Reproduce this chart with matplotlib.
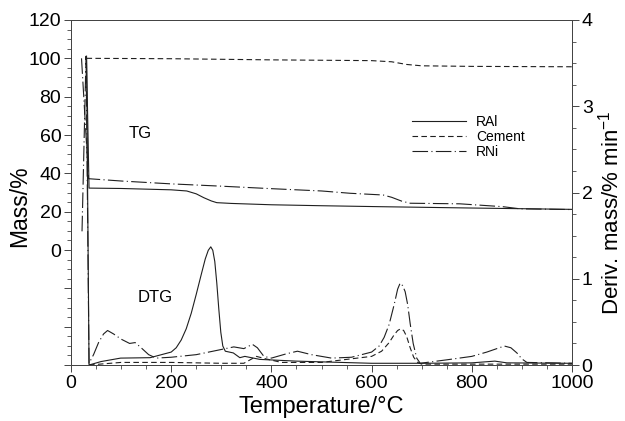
import matplotlib
matplotlib.use("Agg")
import matplotlib.pyplot as plt
from matplotlib.ticker import MultipleLocator, FuncFormatter

plt.rcParams["font.family"] = ["Liberation Sans", "DejaVu Sans"]
plt.rcParams["mathtext.fontset"] = "custom"
plt.rcParams["mathtext.rm"] = "Liberation Sans"

INK = "#1f1f1f"

# ---------------------------------------------------------------------------
# TG curves (left axis, Mass/%)
# ---------------------------------------------------------------------------
ral_tg_t = [31, 36, 100, 200, 231, 250, 265, 280, 291, 320, 400, 500, 617, 800, 1000]
ral_tg_m = [100, 32.3, 32.1, 31.4, 30.8, 29.3, 27.3, 25.6, 24.7, 24.3, 23.6, 23.1, 22.6, 21.9, 21.2]

cem_tg_t = [31, 200, 400, 600, 640, 670, 700, 800, 1000]
cem_tg_m = [100, 99.8, 99.2, 98.8, 98.2, 96.8, 96.1, 95.8, 95.6]

rni_tg_t = [21, 35, 100, 200, 300, 400, 500, 557, 623, 640, 660, 677, 776, 862, 896, 1000]
rni_tg_m = [100, 37.2, 36.0, 34.5, 33.3, 32.0, 30.8, 29.6, 28.7, 27.5, 25.5, 24.4, 24.1, 22.6, 21.5, 21.1]

# ---------------------------------------------------------------------------
# DTG curves (right axis, Deriv. mass/% min^-1)
# ---------------------------------------------------------------------------
ral_dtg_t = [31, 36, 60, 99, 158, 200, 210, 220, 230, 240, 250, 260, 268, 274, 279, 283,
             287, 291, 295, 299, 303, 308, 324, 337, 347, 377, 450, 557, 600, 700, 800,
             846, 870, 1000]
ral_dtg_v = [3.58, 0.0, 0.04, 0.08, 0.085, 0.15, 0.20, 0.29, 0.42, 0.60, 0.82, 1.05, 1.23,
             1.33, 1.37, 1.33, 1.20, 0.95, 0.65, 0.38, 0.22, 0.16, 0.14, 0.085, 0.10, 0.065,
             0.045, 0.027, 0.02, 0.02, 0.025, 0.045, 0.025, 0.02]

cem_dtg_t = [36, 100, 200, 300, 345, 370, 390, 420, 500, 600, 620, 635, 645, 652, 658,
             664, 670, 677, 684, 692, 700, 800, 1000]
cem_dtg_v = [0.0, 0.03, 0.03, 0.02, 0.02, 0.10, 0.07, 0.03, 0.03, 0.10, 0.16, 0.26, 0.35,
             0.40, 0.42, 0.40, 0.33, 0.20, 0.09, 0.03, 0.01, 0.01, 0.01]

rni_dtg_t = [22, 30, 36, 45, 55, 65, 73, 85, 100, 117, 128, 140, 155, 170, 200, 250, 300,
             325, 345, 362, 372, 385, 400, 430, 452, 480, 520, 560, 600, 615, 625, 635,
             645, 652, 657, 662, 667, 672, 677, 683, 690, 697, 750, 800, 830, 850, 865,
             878, 890, 900, 910, 1000]
rni_dtg_v = [1.55, 3.58, 0.02, 0.12, 0.26, 0.36, 0.40, 0.36, 0.30, 0.25, 0.26, 0.20, 0.12,
             0.08, 0.09, 0.12, 0.18, 0.21, 0.19, 0.24, 0.20, 0.10, 0.08, 0.13, 0.16, 0.12,
             0.08, 0.09, 0.15, 0.22, 0.32, 0.47, 0.70, 0.88, 0.95, 0.92, 0.85, 0.70, 0.48,
             0.25, 0.08, 0.02, 0.06, 0.10, 0.15, 0.19, 0.22, 0.20, 0.14, 0.07, 0.03, 0.02]

series_labels = ["RAl", "Cement", "RNi"]
styles = ["-", (0, (5, 3)), (0, (14, 3, 1, 3))]

fig = plt.figure(figsize=(6.25, 4.21), dpi=100)
ax = fig.add_axes([0.1136, 0.133, 0.8016, 0.8195])
ax2 = ax.twinx()

lines = []
for t, m, ls, lab in zip([ral_tg_t, cem_tg_t, rni_tg_t], [ral_tg_m, cem_tg_m, rni_tg_m],
                         styles, series_labels):
    ln, = ax.plot(t, m, color=INK, lw=0.8, ls=ls, label=lab)
    lines.append(ln)

for t, v, ls in zip([ral_dtg_t, cem_dtg_t, rni_dtg_t], [ral_dtg_v, cem_dtg_v, rni_dtg_v], styles):
    ax2.plot(t, v, color=INK, lw=0.8, ls=ls)

# axes limits and ticks
ax.set_xlim(0, 1000)
ax.set_ylim(-60, 120)
ax2.set_ylim(0, 4)
ax.xaxis.set_major_locator(MultipleLocator(200))
ax.xaxis.set_minor_locator(MultipleLocator(50))
ax.yaxis.set_major_locator(MultipleLocator(20))
ax.yaxis.set_minor_locator(MultipleLocator(5))
ax.yaxis.set_major_formatter(FuncFormatter(lambda v, p: f"{v:.0f}" if v >= 0 else ""))
ax2.yaxis.set_major_locator(MultipleLocator(1))
ax2.yaxis.set_minor_locator(MultipleLocator(0.25))

for a in (ax, ax2):
    a.tick_params(which="major", length=5, width=0.7, color="#444444", labelsize=14, pad=2)
    a.tick_params(which="minor", length=3, width=0.6, color="#444444")
    for s in a.spines.values():
        s.set_linewidth(0.7)
        s.set_color("#444444")

ax.set_xlabel("Temperature/°C", fontsize=17, labelpad=3)
ax.set_ylabel("Mass/%", fontsize=16.5)
ax2.set_ylabel("Deriv. mass/% min$^{-1}$", fontsize=16)
ax.yaxis.set_label_coords(-0.08, 0.46)
ax2.yaxis.set_label_coords(1.052, 0.44)

ax.text(138, 61, "TG", fontsize=12, ha="center", va="center")
ax.text(168, -25, "DTG", fontsize=12, ha="center", va="center")

ax.legend(handles=lines, loc="upper left", bbox_to_anchor=(0.67, 0.74), frameon=False,
          fontsize=10, handlelength=3.9, handletextpad=0.7, labelspacing=0.05,
          borderaxespad=0)

fig.savefig("out.png", dpi=100)
